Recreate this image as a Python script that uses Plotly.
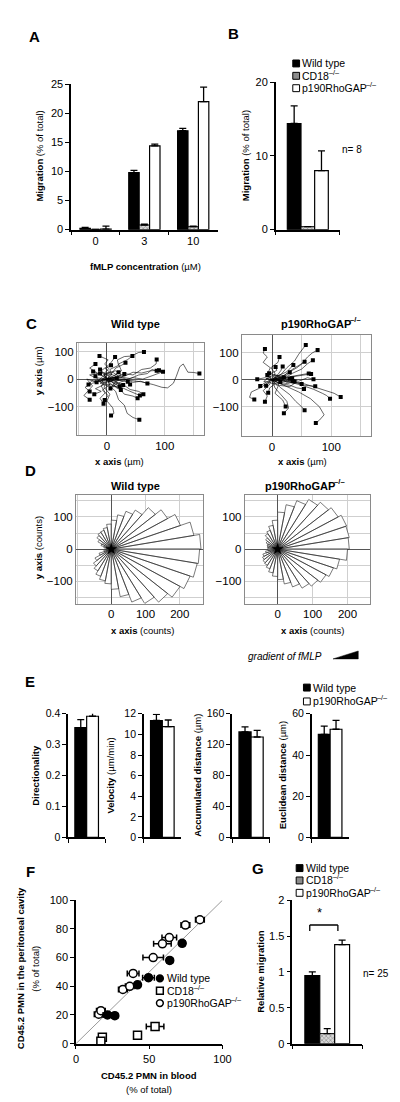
import plotly.graph_objects as go
import numpy as np

W, H = 400, 1102
FONT = "Liberation Sans, Arial, sans-serif"

# ------------------------------------------------------------------ data
genotypes = ["Wild type", "CD18", "p190RhoGAP"]
ko_mark = "–/–"

# A: transwell migration vs fMLP concentration
dose_cats = ["0", "3", "10"]
A_wt = [0.2, 9.8, 17.0]
A_wt_err = [0.2, 0.4, 0.4]
A_cd18 = [0.05, 0.8, 0.5]
A_cd18_err = [0.0, 0.15, 0.1]
A_p190 = [0.1, 14.4, 22.0]
A_p190_err = [0.5, 0.3, 2.5]

# B: migration, n = 8
B_cat = ["n8"]
B_wt, B_wt_err = [14.4], [2.4]
B_cd18, B_cd18_err = [0.4], [0.0]
B_p190, B_p190_err = [8.0], [2.7]

# C: cell tracks (um), hand-read waypoints
WT_tracks = [
    [(0, 0), (-5, 20), (3, 38), (-4, 55), (2, 70), (-8, 78), (-13, 84)],
    [(0, 0), (8, 15), (5, 35), (20, 50), (18, 70), (30, 82), (44, 84)],
    [(0, 0), (10, 10), (25, 30), (20, 55), (35, 70), (48, 90), (55, 97), (64, 99)],
    [(0, 0), (15, 5), (30, 20), (45, 15), (60, 35), (75, 40), (85, 55), (86, 71)],
    [(0, 0), (20, 8), (40, 2), (55, 15), (70, 20), (78, 35), (86, 30)],
    [(0, 0), (25, -5), (45, 5), (62, 0), (78, 12), (90, 20), (97, 27)],
    [(0, 0), (20, 2), (40, -5), (60, -10), (80, -20), (95, -30), (105, -32), (115, -15),
     (120, 10), (126, 45), (132, 55), (136, 40), (140, 25), (150, 24), (160, 20)],
    [(0, 0), (-5, 15), (10, 25), (15, 40), (25, 50), (32, 59)],
    [(0, 0), (-8, 12), (5, 25), (-3, 38), (7, 50)],
    [(0, 0), (15, -8), (30, 2), (45, -12), (58, -8), (70, -16)],
    [(0, 0), (15, -15), (28, -20), (40, -38), (55, -45), (63, -55)],
    [(0, 0), (8, -20), (22, -35), (30, -55), (45, -62), (53, -70)],
    [(0, 0), (5, -25), (15, -45), (20, -75), (30, -95), (35, -125), (45, -140), (56, -148)],
    [(0, 0), (-5, -30), (5, -55), (0, -80), (10, -105), (12, -125), (7, -133)],
    [(0, 0), (-10, -25), (-3, -50), (-12, -70), (-6, -90)],
    [(0, 0), (5, -20), (-8, -40), (2, -60), (-4, -76)],
    [(0, 0), (12, 5), (22, -5), (36, -10)],
    [(0, 0), (-20, 5), (-30, 15), (-12, 20)],
    [(0, 0), (10, -12), (15, -30), (24, -40)],
    [(0, 0), (8, 8), (17, 2)],
    [(0, 0), (-10, 30), (5, 55), (14, 80)],
    [(0, 0), (-20, -10), (-35, 0), (-25, -25), (-40, -60), (-30, -75)],
    [(0, 0), (-15, 20), (-30, 40), (-20, 55)],
    [(0, 0), (20, -25), (35, -40), (48, -52), (57, -60)],
    [(0, 0), (10, 25), (20, 10), (5, -10), (-10, 5), (-18, -12)],
    [(0, 0), (-12, -15), (8, -30), (15, -10), (28, -22)],
    [(0, 0), (25, 15), (15, 30), (-5, 20), (-12, 35)],
    [(0, 0), (-15, -5), (-5, -20), (-20, -35), (-10, -45), (-22, -55)],
    [(0, 0), (30, 10), (45, 25), (60, 22), (75, 30), (90, 32)],
    [(0, 0), (-25, -15), (-38, -30), (-30, -45)],
    [(0, 0), (5, -8), (-6, -14), (-15, -4), (-20, 10)],
    [(0, 0), (-4, 9), (6, 18), (14, 12), (20, 25)],
    [(0, 0), (9, -4), (14, 8), (26, 6), (30, 18)],
    [(0, 0), (-9, -6), (-4, -18), (10, -22), (6, -34)],
    [(0, 0), (4, 12), (-6, 24), (-14, 16), (-24, 28)],
    [(0, 0), (-6, 2), (-12, -10), (-26, -6), (-32, -20)],
    [(0, 0), (12, -6), (18, -16), (10, -28), (22, -26)],
    [(0, 0), (2, -10), (12, -4), (20, -14), (32, -4), (40, -20)],
]
p190_tracks = [
    [(0, 0), (-8, 20), (-3, 45), (-15, 65), (-8, 85), (-15, 100), (-12, 115)],
    [(0, 0), (5, 25), (-2, 45), (10, 65), (12.6, 85)],
    [(0, 0), (-5, 20), (8, 35), (6, 48)],
    [(0, 0), (15, 20), (25, 45), (38, 70), (45, 95), (52, 115), (57, 130)],
    [(0, 0), (20, 15), (35, 40), (50, 60), (60, 85), (68, 100), (77, 111)],
    [(0, 0), (15, 10), (30, 30), (42, 45), (55, 67)],
    [(0, 0), (20, 5), (35, 25), (50, 40), (60, 60), (69, 73)],
    [(0, 0), (10, 15), (25, 30), (36, 55)],
    [(0, 0), (20, 8), (40, 15), (55, 20), (62, 24)],
    [(0, 0), (25, 5), (45, -5), (60, 8), (70, 2)],
    [(0, 0), (20, -5), (40, -10), (55, -20), (73, -24)],
    [(0, 0), (15, -15), (30, -20), (42, -30), (54, -34)],
    [(0, 0), (25, -5), (50, -20), (70, -35), (85, -50), (92, -58), (98, -70)],
    [(0, 0), (30, -2), (55, -15), (75, -30), (90, -40), (105, -50), (116, -64)],
    [(0, 0), (20, -20), (45, -45), (65, -70), (80, -100), (88, -130), (80, -150), (74, -160)],
    [(0, 0), (15, -30), (30, -55), (40, -80), (50, -100), (55, -113)],
    [(0, 0), (5, -30), (15, -55), (25, -80), (28, -105), (20, -124)],
    [(0, 0), (10, -25), (5, -50), (18, -75), (23, -99)],
    [(0, 0), (-5, -20), (-15, -40), (-8, -60), (-12, -81)],
    [(0, 0), (-10, -15), (-20, -30), (-35, -45), (-38, -65), (-30, -73)],
    [(0, 0), (-12, 8), (-25, 2)],
    [(0, 0), (-10, -8), (-20, -23)],
    [(0, 0), (5, -15), (-4, -30), (-6.5, -48)],
    [(0, 0), (-4, 10), (-8, 18)],
    [(0, 0), (15, 10), (25, 2), (34, 6)],
    [(0, 0), (10, 20), (15, 35), (18, 50)],
    [(0, 0), (30, 10), (50, 18), (66, 22)],
    [(0, 0), (10, -10), (20, 5), (8, 15), (-5, 25)],
    [(0, 0), (-10, 5), (5, 20), (15, 10), (25, -10), (35, -5)],
    [(0, 0), (15, -5), (10, -20), (30, -25), (40, -10), (50, -15)],
    [(0, 0), (6, -6), (14, 2), (22, -6), (30, 4)],
    [(0, 0), (-6, -4), (-2, -12), (8, -16), (14, -8)],
    [(0, 0), (8, 6), (4, 14), (14, 18), (20, 10)],
    [(0, 0), (-8, 4), (-14, -6), (-4, -10), (-10, -22)],
    [(0, 0), (12, 2), (16, -10), (26, -14), (38, -6)],
    [(0, 0), (4, 8), (16, 6), (24, 14), (30, 28)],
]

# D: rose histograms, counts per 10-degree bin (0-10, 10-20, ... 350-360)
rose_bin_deg = 10
WT_rose = [262, 245, 215, 190, 168, 140, 125, 108, 90, 78, 68, 62, 60, 55, 45, 32, 22, 15,
           15, 22, 38, 55, 68, 78, 90, 100, 108, 125, 150, 175, 195, 215, 232, 245, 255, 258]
p190_rose = [205, 208, 210, 200, 190, 178, 160, 140, 115, 90, 75, 62, 55, 45, 38, 32, 30, 28,
             28, 35, 45, 50, 55, 58, 65, 75, 85, 95, 110, 125, 140, 150, 160, 170, 180, 200]

# E: track parameters (WT, p190)
E_names = ["Directionality", "Velocity", "Accumulated distance", "Euclidean distance"]
E_wt = [0.355, 11.35, 136.5, 50.0]
E_wt_err = [0.026, 0.6, 6.5, 4.0]
E_p190 = [0.392, 10.75, 130.0, 52.5]
E_p190_err = [0.019, 0.65, 8.5, 4.3]
E_ymax = [0.4, 12, 160, 60]
E_dtick = [0.1, 2, 40, 20]

# F: competitive homing, CD45.2 in blood vs peritoneal cavity (%)
F_wt_x = [21.5, 26.5, 42, 49.5, 64, 72.5]
F_wt_y = [20, 19.5, 41, 46, 58, 70]
F_wt_xerr = [3, 2, 2, 4, 2, 2]
F_cd18_x = [18, 17, 42, 54]
F_cd18_y = [4.4, 1.6, 5.8, 12]
F_cd18_xerr = [2, 2, 2, 6]
F_p190_x = [15.5, 17, 32, 36.7, 39, 52.7, 59, 63.7, 74.7, 84.6]
F_p190_y = [20.5, 23, 37.8, 40, 49, 60, 69.6, 74, 82.7, 86.4]
F_p190_xerr = [3, 3, 3, 3, 4, 7, 6, 5, 3, 3]
F_diag = [0, 100]

# G: relative migration, n = 25
G_cat = ["n25"]
G_wt, G_wt_err = [0.95], [0.05]
G_cd18, G_cd18_err = [0.14], [0.07]
G_p190, G_p190_err = [1.38], [0.065]

# ------------------------------------------------------------------ helpers
def px(x):
    return x / W


def py(y):
    return 1 - y / H


def xd(x0, x1):
    return [x0 / W, x1 / W]


def yd(top, bottom):
    return [1 - bottom / H, 1 - top / H]


fig = go.Figure()
layout = {}
annotations = []
shapes = []


def ax_names(n):
    return ("x" if n == 1 else f"x{n}"), ("y" if n == 1 else f"y{n}")


def set_axes(n, xdom, ydom, xa, ya):
    xn, yn = ax_names(n)
    layout["xaxis" if n == 1 else f"xaxis{n}"] = dict(domain=xdom, anchor=yn, **xa)
    layout["yaxis" if n == 1 else f"yaxis{n}"] = dict(domain=ydom, anchor=xn, **ya)


def ann(text, x, y, size=10, angle=0, xanchor="center", yanchor="middle", italic=False):
    if italic:
        text = f"<i>{text}</i>"
    annotations.append(dict(text=text, x=px(x), y=py(y), xref="paper", yref="paper",
                            showarrow=False, textangle=angle, xanchor=xanchor,
                            yanchor=yanchor, borderpad=0,
                            font=dict(size=size, color="black", family=FONT)))


# Arial / Liberation Sans advance widths (per 1000 em) for the genotype labels
REG_W = {"C": 722, "D": 722, "1": 556, "8": 556, "p": 556, "9": 556, "0": 556, "R": 722,
         "h": 556, "o": 556, "G": 778, "A": 667, "P": 667, "–": 556, "/": 278}
BOLD_W = {"C": 722, "D": 722, "1": 556, "8": 556, "p": 611, "9": 556, "0": 556, "R": 722,
          "h": 611, "o": 611, "G": 778, "A": 722, "P": 667, "–": 556, "/": 278}


def text_w(s, size, bold=False):
    tab = BOLD_W if bold else REG_W
    return sum(tab.get(c, 556) for c in s) / 1000 * size


def ann_ko(base, x, y, size, bold=False, xanchor="left"):
    """Genotype label with a raised, smaller '-/-' knockout mark."""
    sup_size = size * 0.7
    wb = text_w(base, size, bold) + 1.0
    ws = text_w(ko_mark, sup_size, bold)
    left = x if xanchor == "left" else x - (wb + ws) / 2
    b = (lambda s: f"<b>{s}</b>") if bold else (lambda s: s)
    ann(b(base), left, y, size=size, xanchor="left")
    ann(b(ko_mark), left + wb, y - 0.36 * size, size=sup_size, xanchor="left")


def ann_geno(i, x, y, size, bold=False, xanchor="left"):
    if i == 0:
        ann(f"<b>{genotypes[0]}</b>" if bold else genotypes[0], x, y, size=size, xanchor=xanchor)
    else:
        ann_ko(genotypes[i], x, y, size, bold=bold, xanchor=xanchor)


STYLE = {
    "wt": dict(color="black", line=dict(color="black", width=1.2)),
    "cd18": dict(color="#9a9a9a", line=dict(color="black", width=1.0),
                 pattern=dict(shape="x", fgcolor="#333", bgcolor="#d8d8d8", size=3, solidity=0.35)),
    "p190": dict(color="white", line=dict(color="black", width=1.2)),
}
KEYS = ["wt", "cd18", "p190"]


def add_bar(cats, vals, errs, gi, n):
    xn, yn = ax_names(n)
    name = genotypes[gi] + ("" if gi == 0 else " -/-")
    fig.add_trace(go.Bar(
        x=cats, y=vals, name=name, xaxis=xn, yaxis=yn, marker=STYLE[KEYS[gi]], showlegend=False,
        error_y=dict(type="data", array=errs, arrayminus=[0] * len(errs), symmetric=False,
                     color="black", thickness=1.3, width=3.5),
    ))


def bar_xaxis(cats, labels=False, size=11):
    return dict(type="category", categoryorder="array", categoryarray=cats,
                range=[-0.5, len(cats) - 0.5], tickson="boundaries", ticks="outside",
                ticklen=4, tickwidth=1.3, tickcolor="black", showline=True, linecolor="black",
                linewidth=1.5, showgrid=False, zeroline=False, showticklabels=labels,
                tickfont=dict(size=size, color="black", family=FONT), fixedrange=True)


def bar_yaxis(ymax, dtick, size=11):
    return dict(range=[0, ymax], dtick=dtick, ticks="outside", ticklen=4, tickwidth=1.3,
                tickcolor="black", showline=True, linecolor="black", linewidth=1.5,
                showgrid=False, zeroline=False,
                tickfont=dict(size=size, color="black", family=FONT), fixedrange=True)


GRID = "#cfcfcf"


def grid_axis(rng, tickvals, minor_vals, size=11.5):
    ax = dict(range=rng, tickvals=tickvals, ticks="", showline=True,
              mirror=True, linecolor="#8a8a8a", linewidth=1, showgrid=True,
              gridcolor=GRID, gridwidth=0.8, zeroline=True, zerolinecolor="#555",
              zerolinewidth=1, tickfont=dict(size=size, color="black", family=FONT),
              fixedrange=True)
    if minor_vals:
        ax["minor"] = dict(tickvals=minor_vals, showgrid=True, gridcolor=GRID,
                           gridwidth=0.8, ticks="")
    return ax


def legend_box(x, y, key, size=7):
    shapes.append(dict(type="rect", xref="paper", yref="paper",
                       x0=px(x), x1=px(x + size), y0=py(y + size / 2), y1=py(y - size / 2),
                       fillcolor={"wt": "black", "cd18": "#8c8c8c", "p190": "white"}[key],
                       line=dict(color="black", width=1)))


# ------------------------------------------------------------------ A
add_bar(dose_cats, A_wt, A_wt_err, 0, 1)
add_bar(dose_cats, A_cd18, A_cd18_err, 1, 1)
add_bar(dose_cats, A_p190, A_p190_err, 2, 1)
set_axes(1, xd(62, 213), yd(71, 218), bar_xaxis(dose_cats, labels=True),
         bar_yaxis(25, 5))
ann("<b>A</b>", 24, 23, size=15)
ann("<b>Migration</b> (% of total)", 29, 144, size=9.5, angle=-90)
ann("<b>fMLP concentration</b> (µM)", 139, 255, size=9.5)

# ------------------------------------------------------------------ B
add_bar(B_cat, B_wt, B_wt_err, 0, 2)
add_bar(B_cat, B_cd18, B_cd18_err, 1, 2)
add_bar(B_cat, B_p190, B_p190_err, 2, 2)
set_axes(2, xd(273, 339), yd(69, 218), bar_xaxis(B_cat), bar_yaxis(20, 10))
ann("<b>B</b>", 229, 20, size=15)
ann("<b>Migration</b> (% of total)", 242, 143, size=9.5, angle=-90)
for i in range(3):
    yy = 50 + 12.5 * i
    legend_box(290.5, yy, KEYS[i])
    ann_geno(i, 299, yy, 10.5)
ann("n= 8", 340, 137, size=10, xanchor="left")

# ------------------------------------------------------------------ C
def track_trace(tracks, n):
    xn, yn = ax_names(n)
    xs, ys = [], []
    for t in tracks:
        xs += [p[0] for p in t] + [None]
        ys += [p[1] for p in t] + [None]
    fig.add_trace(go.Scatter(x=xs, y=ys, mode="lines", xaxis=xn, yaxis=yn, showlegend=False,
                             line=dict(color="black", width=0.6), hoverinfo="skip"))
    fig.add_trace(go.Scatter(x=[t[-1][0] for t in tracks], y=[t[-1][1] for t in tracks],
                             mode="markers", xaxis=xn, yaxis=yn, showlegend=False,
                             marker=dict(symbol="square", size=4, color="black")))


track_trace(WT_tracks, 3)
track_trace(p190_tracks, 4)
cx_major, cx_minor = [0, 100], [-50, 50, 150]
cy_major = [-100, 0, 100]
set_axes(3, xd(68, 199), yd(333, 426), grid_axis([-52, 168], cx_major, cx_minor),
         grid_axis([-205, 130], cy_major, None))
set_axes(4, xd(238, 371), yd(325, 427), grid_axis([-51, 167], cx_major, cx_minor),
         grid_axis([-210, 165], cy_major, None))
ann("<b>C</b>", 21, 313, size=15)
ann_geno(0, 128, 313, 11, bold=True, xanchor="center")
ann_geno(2, 318, 313, 11, bold=True, xanchor="center")
ann("<b>y axis</b> (µm)", 28, 361, size=9.5, angle=-90)
ann("<b>x axis</b> (µm)", 112, 452, size=9.5)
ann("<b>x axis</b> (µm)", 300, 452, size=9.5)

# ------------------------------------------------------------------ D
def rose_trace(counts, n):
    xn, yn = ax_names(n)
    xs, ys = [], []
    for k, r in enumerate(counts):
        a1 = np.deg2rad(k * rose_bin_deg)
        a2 = np.deg2rad((k + 1) * rose_bin_deg)
        xs += [0, r * np.cos(a1), r * np.cos(a2), 0, None]
        ys += [0, r * np.sin(a1), r * np.sin(a2), 0, None]
    fig.add_trace(go.Scatter(x=xs, y=ys, mode="lines", fill="toself", fillcolor="white",
                             xaxis=xn, yaxis=yn, showlegend=False, hoverinfo="skip",
                             line=dict(color="#222", width=0.6)))
    fig.add_trace(go.Scatter(x=[0], y=[0], mode="markers", xaxis=xn, yaxis=yn,
                             showlegend=False, marker=dict(symbol="star", size=9, color="black")))


rose_trace(WT_rose, 5)
rose_trace(p190_rose, 6)
dx_major, dx_minor = [0, 100, 200], [-100]
dy_major, dy_minor = [-100, 0, 100], [-150, -50, 50, 150]
set_axes(5, xd(67, 198), yd(486, 596), grid_axis([-103, 268], dx_major, dx_minor),
         grid_axis([-169, 169], dy_major, dy_minor))
set_axes(6, xd(241, 370), yd(486, 596), grid_axis([-94, 264], dx_major, dx_minor),
         grid_axis([-169, 169], dy_major, dy_minor))
ann("<b>D</b>", 20, 462, size=15)
ann_geno(0, 128, 477, 11, bold=True, xanchor="center")
ann_geno(2, 302, 477, 11, bold=True, xanchor="center")
ann("<b>y axis</b> (counts)", 28, 540, size=9.5, angle=-90)
ann("<b>x axis</b> (counts)", 136, 623, size=9.5)
ann("<b>x axis</b> (counts)", 311, 623, size=9.5)
ann("gradient of fMLP", 243, 650, size=10, xanchor="left", italic=True)
shapes.append(dict(type="path", xref="paper", yref="paper",
                   path=f"M {px(332)},{py(652)} L {px(358)},{py(644)} L {px(358)},{py(652)} Z",
                   fillcolor="black", line=dict(color="black", width=0.5)))

# ------------------------------------------------------------------ E
E_x = [(59, 97), (137, 175), (228, 267), (310, 348)]
E_lab_x = [25, 103, 192, 280]
E_units = ["", " (µm/min)", " (µm)", " (µm)"]
for i in range(4):
    n = 7 + i
    cat = [E_names[i]]
    add_bar(cat, [E_wt[i]], [E_wt_err[i]], 0, n)
    add_bar(cat, [E_p190[i]], [E_p190_err[i]], 2, n)
    set_axes(n, xd(*E_x[i]), yd(707.5, 832.5), bar_xaxis(cat),
             bar_yaxis(E_ymax[i], E_dtick[i], size=10.5))
    ann(f"<b>{E_names[i]}</b>{E_units[i]}", E_lab_x[i], 770, size=9.5, angle=-90)
ann("<b>E</b>", 20, 675, size=15)
for j, gi in enumerate([0, 2]):
    yy = 681 + 14 * j
    legend_box(301.5, yy, KEYS[gi])
    ann_geno(gi, 310.5, yy, 10.5)

# ------------------------------------------------------------------ F
fig.add_trace(go.Scatter(x=F_diag, y=F_diag, mode="lines", xaxis="x11", yaxis="y11",
                         showlegend=False, line=dict(color="#9a9a9a", width=1), hoverinfo="skip"))


def f_points(xv, yv, xe, symbol, fill, name):
    fig.add_trace(go.Scatter(
        x=xv, y=yv, mode="markers", name=name, xaxis="x11", yaxis="y11", showlegend=False,
        cliponaxis=False,
        marker=dict(symbol=symbol, size=8, color=fill, line=dict(color="black", width=1.5)),
        error_x=dict(type="data", array=xe, color="black", thickness=1.5, width=3)))


f_points(F_cd18_x, F_cd18_y, F_cd18_xerr, "square", "white", "CD18 -/-")
f_points(F_p190_x, F_p190_y, F_p190_xerr, "circle", "white", "p190RhoGAP -/-")
f_points(F_wt_x, F_wt_y, F_wt_xerr, "circle", "black", "Wild type")
set_axes(11, xd(67, 218), yd(896, 1041),
         dict(range=[0, 100], tickvals=[0, 50, 100], ticks="outside", ticklen=4, tickwidth=1.3,
              tickcolor="black", showline=True, linecolor="black", linewidth=1.5,
              showgrid=False, zeroline=False,
              tickfont=dict(size=11, color="black", family=FONT), fixedrange=True),
         dict(range=[0, 100], dtick=20, ticks="outside", ticklen=4, tickwidth=1.3,
              tickcolor="black", showline=True, linecolor="black", linewidth=1.5,
              showgrid=False, zeroline=False,
              tickfont=dict(size=11, color="black", family=FONT), fixedrange=True))
ann("<b>F</b>", 20, 867, size=15)
ann("<b>CD45.2 PMN in the peritoneal cavity</b>", 10, 965, size=9.5, angle=-90)
ann("(% of total)", 25, 965, size=9.5, angle=-90)
ann("<b>CD45.2 PMN in blood</b>", 142, 1073, size=9.5)
ann("(% of total)", 142, 1087, size=9.5)
f_leg = [("circle", "black", 975), ("rect", "white", 987.5), ("circle", "white", 1000)]
for gi, (shp, fc, yy) in enumerate(f_leg):
    shapes.append(dict(type=shp, xref="paper", yref="paper",
                       x0=px(150), x1=px(157), y0=py(yy + 3.5), y1=py(yy - 3.5),
                       fillcolor=fc, line=dict(color="black", width=1.5)))
    ann_geno(gi, 159.5, yy, 10.5)

# ------------------------------------------------------------------ G
add_bar(G_cat, G_wt, G_wt_err, 0, 12)
add_bar(G_cat, G_cd18, G_cd18_err, 1, 12)
add_bar(G_cat, G_p190, G_p190_err, 2, 12)
set_axes(12, xd(290, 362), yd(896, 1041), bar_xaxis(G_cat), bar_yaxis(2, 0.5))
ann("<b>G</b>", 255, 864, size=15)
ann("<b>Relative migration</b>", 257, 968, size=9.5, angle=-90)
for i in range(3):
    yy = 863.5 + 12.5 * i
    legend_box(294, yy, KEYS[i])
    ann_geno(i, 303, yy, 10.5)
ann("n= 25", 362, 970, size=10, xanchor="left")
# significance bracket
for x0, y0, x1, y1 in [(308, 1.57, 308, 1.655), (308, 1.655, 337, 1.655), (337, 1.655, 337, 1.57)]:
    shapes.append(dict(type="line", xref="paper", yref="y12", x0=px(x0), x1=px(x1),
                       y0=y0, y1=y1, line=dict(color="black", width=1.3)))
annotations.append(dict(text="*", x=px(323), y=1.70, xref="paper", yref="y12",
                        showarrow=False, yanchor="bottom",
                        font=dict(size=13, color="black", family=FONT)))

# ------------------------------------------------------------------ layout
fig.update_layout(
    width=W, height=H, margin=dict(l=0, r=0, t=0, b=0),
    paper_bgcolor="white", plot_bgcolor="white",
    barmode="group", bargap=0.36, bargroupgap=0,
    font=dict(family=FONT, color="black", size=10),
    showlegend=False, annotations=annotations, shapes=shapes,
    **layout,
)
fig.write_html("out.html")
